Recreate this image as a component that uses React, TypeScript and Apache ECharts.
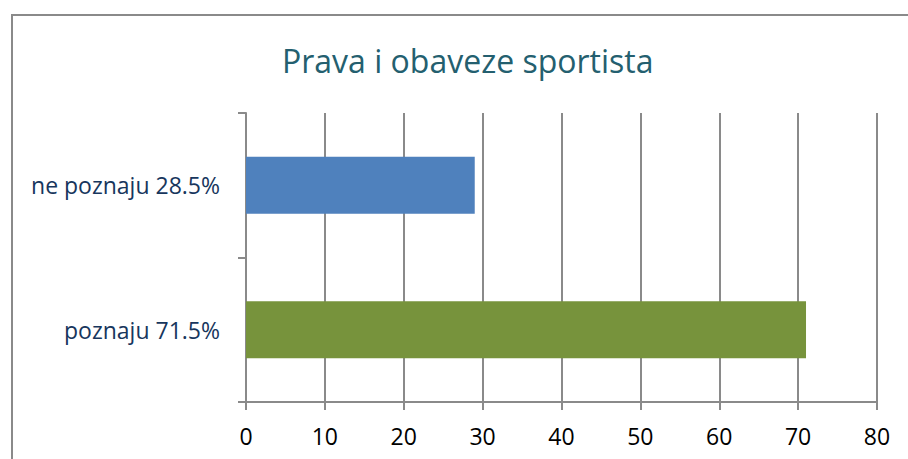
import React, { useEffect, useRef } from "react";
import * as echarts from "echarts";

const title = "Prava i obaveze sportista";
const categories = ["poznaju 71.5%", "ne poznaju 28.5%"];
const values = [71, 29];
const barColors = ["#77933C", "#4F81BD"];
const xMin = 0;
const xMax = 80;
const xInterval = 10;

export default function App() {
  const ref = useRef<HTMLDivElement>(null);
  useEffect(() => {
    if (!ref.current) return;
    const chart = echarts.init(ref.current, undefined, { renderer: "svg" });
    const font = "'Open Sans', sans-serif";
    chart.setOption({
      animation: false,
      title: {
        text: title,
        left: 277,
        top: 39,
        textStyle: { color: "#245F6F", fontFamily: font, fontSize: 32, fontWeight: "normal" },
      },
      graphic: [
        {
          type: "rect",
          shape: { x: 12, y: 15, width: 920, height: 470 },
          style: { fill: "none", stroke: "#8A8A8A", lineWidth: 2 },
          silent: true,
        },
      ],
      grid: { left: 246, right: 31, top: 113, bottom: 57, containLabel: false },
      xAxis: {
        type: "value",
        min: xMin,
        max: xMax,
        interval: xInterval,
        axisLine: { show: true, lineStyle: { color: "#8A8A8A", width: 2 } },
        axisTick: { show: true, length: 8, lineStyle: { color: "#8A8A8A", width: 2 } },
        splitLine: { show: true, lineStyle: { color: "#8A8A8A", width: 2 } },
        axisLabel: { color: "#000", fontFamily: font, fontSize: 23, margin: 22 },
      },
      yAxis: {
        type: "category",
        data: categories,
        axisLine: { show: true, lineStyle: { color: "#8A8A8A", width: 2 } },
        axisTick: { show: true, length: 8, lineStyle: { color: "#8A8A8A", width: 2 } },
        axisLabel: { color: "#17365D", fontFamily: font, fontSize: 23, margin: 26 },
      },
      series: [
        {
          type: "bar",
          data: values.map((v, i) => ({ value: v, itemStyle: { color: barColors[i] } })),
          barWidth: 57,
        },
      ],
    });
    return () => chart.dispose();
  }, []);
  return <div ref={ref} style={{ width: 908, height: 459, position: "absolute", left: 0, top: 0 }} />;
}
